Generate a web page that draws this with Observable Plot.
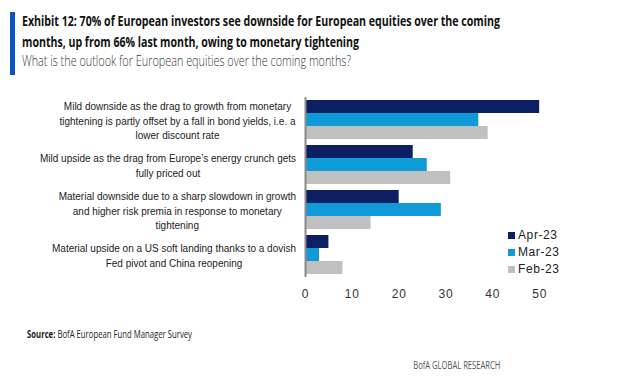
<!DOCTYPE html>
<html>
<head>
<meta charset="utf-8">
<script src="https://cdn.jsdelivr.net/npm/d3@7"></script>
<script src="https://cdn.jsdelivr.net/npm/@observablehq/plot@0.6"></script>
<style>
  html, body { margin: 0; padding: 0; background: #fff; }
  body { width: 617px; height: 387px; position: relative; overflow: hidden; font-family: "Liberation Sans", Arial, sans-serif; }
  .sidebar { position: absolute; left: 10px; top: 12px; width: 5px; height: 63px; background: #0b54c4; }
  .tl { position: absolute; left: 22px; white-space: nowrap; transform-origin: 0 50%; font-family: "Open Sans", sans-serif; }
  .t1 { top: 11px; font-size: 14px; font-weight: 700; color: #111; }
  .t2 { top: 32px; font-size: 14px; font-weight: 700; color: #111; }
  .t3 { top: 51px; font-size: 14px; font-weight: 300; color: #3a3a3a; }
  #chart { position: absolute; left: 0; top: 85px; }
  .legend { position: absolute; left: 508px; top: 227px; font-family: "Liberation Sans", Arial, sans-serif; font-size: 12px; color: #222; letter-spacing: 0.6px; }
  .legend div { height: 17px; line-height: 17px; white-space: nowrap; }
  .legend span.sw { display: inline-block; width: 7px; height: 7px; margin-right: 3px; vertical-align: 0px; }
  .src { position: absolute; left: 27px; top: 327px; font-family: "Open Sans", sans-serif; font-size: 10.5px; color: #222; white-space: nowrap; transform-origin: 0 50%; }
  .brand { position: absolute; top: 358px; font-family: "Open Sans", sans-serif; font-size: 10.5px; color: #555; white-space: nowrap; transform-origin: 100% 50%; }
</style>
</head>
<body>
<div class="sidebar"></div>
<div class="tl t1" data-w="478">Exhibit 12: 70% of European investors see downside for European equities over the coming</div>
<div class="tl t2" data-w="337">months, up from 66% last month, owing to monetary tightening</div>
<div class="tl t3" data-w="329">What is the outlook for European equities over the coming months?</div>
<div id="chart"></div>
<div class="legend" id="legend"></div>
<div class="src" data-w="165"><b>Source:</b> BofA European Fund Manager Survey</div>
<div class="brand" id="brand" data-w="87">BofA GLOBAL RESEARCH</div>
<script>
// ---- data ----
const categories = [
  "Mild downside as the drag to growth from monetary\ntightening is partly offset by a fall in bond yields, i.e. a\nlower discount rate",
  "Mild upside as the drag from Europe’s energy crunch gets\nfully priced out",
  "Material downside due to a sharp slowdown in growth\nand higher risk premia in response to monetary\ntightening",
  "Material upside on a US soft landing thanks to a dovish\nFed pivot and China reopening"
];
const series = ["Apr-23", "Mar-23", "Feb-23"];
const apr23 = [50, 23, 20, 5];
const mar23 = [37, 26, 29, 3];
const feb23 = [39, 31, 14, 8];
const xTicks = [0, 10, 20, 30, 40, 50];
const colors = ["#0d1f63", "#0e9bd8", "#c0c0c0"];

const valuesBySeries = [apr23, mar23, feb23];
const data = [];
series.forEach((s, si) => categories.forEach((c, ci) => data.push({category: c, series: s, value: valuesBySeries[si][ci]})));

const chart = Plot.plot({
  width: 617,
  height: 222,
  marginTop: 12,
  marginBottom: 30,
  marginLeft: 305,
  marginRight: 31,
  style: {fontFamily: "Liberation Sans, Arial, sans-serif", fontSize: "12px", color: "#333", background: "transparent"},
  x: {domain: [0, 60], ticks: xTicks, tickSize: 0, tickPadding: 12, label: null, tickFormat: d => String(d)},
  y: {domain: series, padding: 0, insetTop: 3, insetBottom: 3, axis: null},
  fy: {domain: categories, padding: 0, axis: null},
  color: {domain: series, range: colors},
  marks: [
    Plot.barX(data, {x: "value", y: "series", fy: "category", fill: "series"}),
    Plot.ruleX([0], {stroke: "#8a8a8a", strokeWidth: 2}),
    Plot.text(categories.map(c => ({category: c})), {
      fy: "category", text: "category", frameAnchor: "left", dx: -133,
      textAnchor: "middle", fontSize: 10, lineHeight: 1.45, fill: "#222"
    })
  ]
});
document.getElementById("chart").appendChild(chart);
chart.querySelectorAll("g[aria-label='x-axis tick label'] text, g[aria-label='x-axis'] text").forEach(t => t.setAttribute("letter-spacing", "0.8"));
// align each wrapped label block so its longest line ends just left of the axis
const svgLeft = chart.getBoundingClientRect().left;
chart.querySelectorAll("g[aria-label='text'] text").forEach(t => {
  const r = t.getBoundingClientRect();
  const shift = 296 - (r.right - svgLeft);
  const prev = t.getAttribute("transform") || "";
  t.setAttribute("transform", `translate(${shift.toFixed(1)},0) ${prev}`);
});

// legend
const leg = document.getElementById("legend");
series.forEach((s, i) => {
  const row = document.createElement("div");
  const sw = document.createElement("span");
  sw.className = "sw"; sw.style.background = colors[i];
  row.appendChild(sw);
  row.appendChild(document.createTextNode(s));
  leg.appendChild(row);
});

// fit header/footer text widths
document.querySelectorAll("[data-w]").forEach(el => {
  const w = el.getBoundingClientRect().width;
  el.style.transform = `scaleX(${(+el.dataset.w / w).toFixed(4)})`;
});
const brand = document.getElementById("brand");
brand.style.left = (500 - brand.offsetWidth) + "px";
</script>
</body>
</html>
